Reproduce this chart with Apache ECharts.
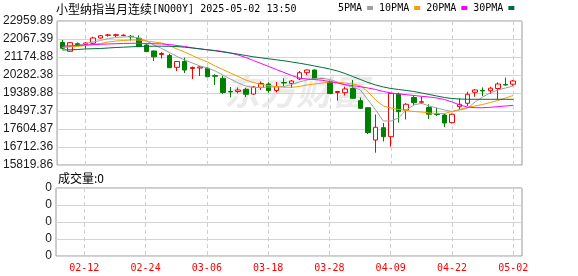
<!DOCTYPE html>
<html><head><meta charset="utf-8">
<script src="https://cdn.jsdelivr.net/npm/echarts@6/dist/echarts.min.js"></script>
<style>html,body{margin:0;padding:0;background:#fff}#c{width:578px;height:276px}</style>
</head><body><div id="c"></div>
<script>
const titleName = '小型纳指当月连续';
const titleCode = '[NQ00Y] 2025-05-02 13:50';
const dates = ['02-07','02-10','02-11','02-12','02-13','02-14','02-17','02-18','02-19','02-20','02-21','02-24','02-25','02-26','02-27','02-28',
'03-03','03-04','03-05','03-06','03-07','03-10','03-11','03-12','03-13','03-14','03-17','03-18','03-19','03-20','03-21','03-24','03-25','03-26','03-27','03-28','03-31',
'04-01','04-02','04-03','04-04','04-07','04-08','04-09','04-10','04-11','04-14','04-15','04-16','04-17','04-21','04-22','04-23','04-24','04-25','04-28','04-29','04-30','05-01','05-02'];
const openP  = [21894,21457,21835,21805,21854,22117,22251,22246,22240,22200,22102,21770,21472,21299,21249,20664,20952,20605,20630,20615,20250,20119,19465,19465,19573,19340,19673,19836,19514,19911,19871,20084,20397,20530,20105,19935,19415,19405,19613,19008,18661,17060,17670,17224,19340,18547,19167,18929,18671,18349,18299,17918,18711,18879,19425,19514,19504,19613,19811,19826];
const closeP = [21606,21884,21785,21869,22117,22231,22271,22280,22255,22180,21686,21448,21185,21348,20644,20952,20530,20654,20680,20198,20220,19415,19440,19539,19326,19688,19861,19514,19702,19886,19985,20397,20530,20099,20115,19365,19465,19588,19127,18631,17432,17690,17224,19365,18463,18830,18909,18959,18339,18324,17903,18334,18830,19326,19539,19489,19628,19836,19786,19985];
const lowP   = [21557,21423,21720,21586,21820,22082,22181,22166,22200,21983,21671,21423,20977,21101,20630,20481,20382,20084,20233,20183,19787,19340,19177,19375,19192,19291,19539,19405,19415,19737,19638,20034,20283,20059,20080,19340,19008,19266,19117,18621,17357,16430,16985,16728,17918,18076,18780,18845,18101,18250,17705,17878,18572,18745,19207,19241,19340,19078,19762,19737];
const highP  = [22018,21919,21894,21904,22181,22266,22315,22330,22300,22266,22251,21795,21497,21423,21334,20977,21150,20704,20729,20664,20317,20233,19688,19663,19653,19737,19960,19921,19935,20119,20034,20481,20555,20565,20130,20010,19474,19702,20034,19167,18696,18324,17903,19390,19405,18894,19276,19207,18830,18661,18374,18374,19127,19454,19588,19663,19702,19911,20148,20034];
const ma5  = [21646,21696,21745,21844,21919,21993,22092,22142,22167,22181,22117,21968,21770,21596,21398,21200,21026,20878,20729,20630,20481,20283,20084,19886,19737,19663,19663,19688,19688,19712,19812,19936,20035,20109,20119,20059,19936,19787,19688,19539,19043,18547,18002,18002,18151,18547,18795,18879,18746,18646,18547,18473,18547,18622,18944,19192,19390,19539,19638,19737];
const ma10 = [21646,21671,21696,21745,21795,21844,21919,21968,21993,22018,22018,21968,21919,21869,21745,21572,21423,21249,21076,20927,20729,20555,20382,20208,20035,19911,19812,19762,19712,19673,19673,19712,19787,19836,19886,19936,19911,19886,19836,19762,19440,19043,18746,18646,18572,18522,18473,18448,18399,18374,18374,18473,18572,18671,18746,18820,18919,19018,19142,19266];
const ma20 = [21720,21735,21745,21770,21785,21805,21820,21834,21844,21854,21854,21844,21834,21820,21795,21745,21696,21631,21572,21532,21497,21448,21373,21274,21150,21001,20853,20704,20555,20407,20258,20134,20084,20059,20020,19960,19886,19802,19752,19702,19638,19564,19465,19390,19341,19306,19266,19227,19192,19142,19068,18944,18795,18696,18661,18661,18681,18711,18746,18780];
const ma30 = [21522,21532,21547,21572,21587,21596,21621,21646,21661,21681,21696,21706,21710,21710,21706,21691,21661,21621,21582,21532,21482,21423,21373,21314,21249,21185,21135,21086,21036,20987,20927,20868,20803,20729,20654,20580,20481,20357,20208,20059,19911,19787,19688,19613,19564,19514,19465,19390,19316,19241,19167,19117,19092,19078,19078,19078,19078,19078,19078,19078];
const volume = dates.map(() => 0);
const yTicks = [15819.86,16712.36,17604.87,18497.37,19389.88,20282.38,21174.88,22067.39,22959.89];
const xTickLabels = ['02-12','02-24','03-06','03-18','03-28','04-09','04-22','05-02'];
const volTickLabels = ['0','0','0','0','0'];
const maNames = ['5PMA','10PMA','20PMA','30PMA'];
const maColors = ['#a0a0a0','#f0a000','#ff00ff','#006f3b'];

const tickIdx = xTickLabels.map(d => dates.indexOf(d));
const monoFont = 'DejaVu Sans Mono';
const gridLine = '#d4d4d4';

const chart = echarts.init(document.getElementById('c'), null, {renderer:'canvas'});
const xBase = (gi, showLabel) => ({
  type:'value', gridIndex:gi, min:-0.7, max:60.15,
  axisLine:{show:false},
  axisTick:{show:false, customValues:tickIdx},
  axisLabel:{show:showLabel, customValues:tickIdx, formatter:v => dates[Math.round(v)],
    color:'#ff0000', fontFamily:monoFont, fontSize:10, margin:7},
  splitLine:{show:true, lineStyle:{color:'#cfcfcf', type:[4,3], width:1}}
});
const maSeries = [ma5, ma10, ma20, ma30].map((arr, k) => ({
  name: maNames[k], type:'line', xAxisIndex:0, yAxisIndex:0,
  data: arr.map((v,i) => [i, v]), symbol:'none', showSymbol:false,
  lineStyle:{width:1, color:maColors[k]}, itemStyle:{color:maColors[k]},
  z: 3, animation:false
}));
chart.setOption({
  animation:false,
  backgroundColor:'#fff',
  grid:[
    {left:56, top:21, width:466, height:144, show:true, borderColor:'#999', borderWidth:1, backgroundColor:'transparent'},
    {left:56, top:188, width:466, height:68, show:true, borderColor:'#999', borderWidth:1, backgroundColor:'transparent'}
  ],
  xAxis:[xBase(0,false), xBase(1,true)],
  yAxis:[
    {type:'value', gridIndex:0, min:yTicks[0], max:yTicks[yTicks.length-1],
      axisLine:{show:false}, axisTick:{show:false, customValues:yTicks},
      axisLabel:{customValues:yTicks, formatter:v => v.toFixed(2), color:'#1a1a1a', fontFamily:'Liberation Sans', fontSize:12, margin:4},
      splitLine:{show:true, lineStyle:{color:gridLine, width:1}}},
    {type:'value', gridIndex:1, min:0, max:4, interval:1,
      axisLine:{show:false}, axisTick:{show:false},
      axisLabel:{formatter:(v, idx) => volTickLabels[idx], color:'#1a1a1a', fontFamily:'Liberation Sans', fontSize:12, margin:4},
      splitLine:{show:true, lineStyle:{color:gridLine, width:1}}}
  ],
  legend:{
    data:maNames, left:338, top:3, icon:'rect', itemWidth:6, itemHeight:4, itemGap:6, align:'right',
    selectedMode:false, padding:0,
    textStyle:{fontFamily:monoFont, fontSize:10, color:'#000'}
  },
  graphic:[
    {type:'text', left:56, top:3, z:10, style:{
      text:'{a|' + titleName + '}{b|' + titleCode + '}',
      rich:{a:{fontFamily:'Noto Sans CJK SC', fontSize:12, fill:'#000', color:'#000'},
            b:{fontFamily:monoFont, fontSize:10, fill:'#000', color:'#000'}}}},
    {type:'text', left:58, top:172, z:10, style:{
      text:'成交量:' + volume[volume.length-1], font:'12px "Noto Sans CJK SC"', fill:'#000'}},
    {type:'text', left:224, top:73, z:-1, style:{
      text:'东方财富', font:'italic bold 36px "Noto Sans CJK SC"', fill:'rgba(0,0,0,0.08)'}}
  ],
  series:[
    {type:'candlestick', name:'K', xAxisIndex:0, yAxisIndex:0,
      data: dates.map((d,i) => [i, openP[i], closeP[i], lowP[i], highP[i]]),
      encode:{x:0, y:[1,2,3,4]},
      barWidth:5,
      itemStyle:{color:'#ffffff', color0:'#008000', borderColor:'#ff0000', borderColor0:'#008000', borderWidth:1},
      z:2},
    ...maSeries,
    {type:'bar', name:'VOL', xAxisIndex:1, yAxisIndex:1, data: volume.map((v,i) => [i, v]), barWidth:5,
      itemStyle:{color:'#ff0000'}}
  ]
});
</script></body></html>
